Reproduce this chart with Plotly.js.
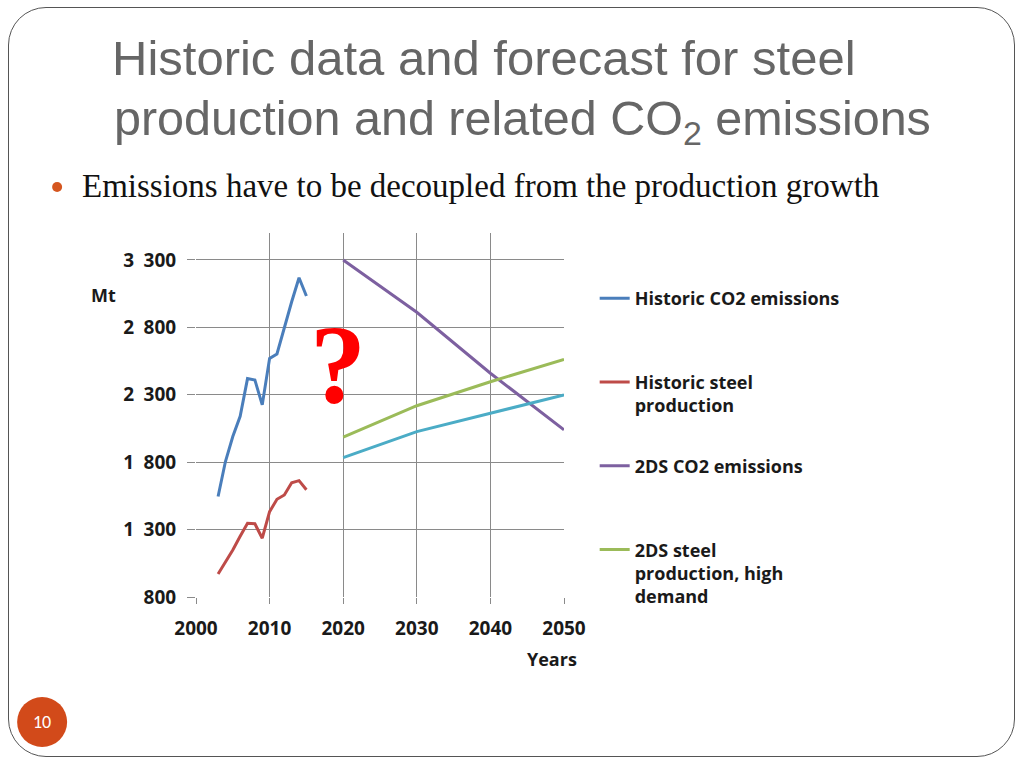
<!DOCTYPE html>
<html>
<head>
<meta charset="utf-8">
<script src="https://cdn.plot.ly/plotly-3.0.1.min.js"></script>
<style>
  html, body { margin: 0; padding: 0; background: #ffffff; }
  #wrap { position: relative; width: 1024px; height: 768px; overflow: hidden; }
  #frame { position: absolute; left: 8px; top: 7px; width: 1007px; height: 750px;
           border: 1px solid #555; border-radius: 38px; box-sizing: border-box; }
  #chart { position: absolute; left: 0; top: 0; width: 1024px; height: 768px; }
</style>
</head>
<body>
<div id="wrap">
  <div id="frame"></div>
  <div id="chart"></div>
</div>
<script>
// ---- data ----
const histYears = [2003, 2004, 2005, 2006, 2007, 2008, 2009, 2010, 2011, 2012, 2013, 2014, 2015];
const histCO2   = [1545, 1805, 1990, 2140, 2420, 2410, 2225, 2570, 2603, 2805, 2990, 3168, 3033];
const histSteel = [ 971, 1055, 1148, 1250, 1347, 1343, 1236, 1433, 1525, 1557, 1648, 1663, 1596];

const fcYears      = [2020, 2030, 2040, 2050];
const co2_2DS      = [3300, 2912, 2460, 2040];
const steelHigh2DS = [1985, 2219, 2397, 2563];
const steelLow2DS  = [1834, 2027, 2163, 2299];

const seriesNames = [
  "Historic CO2 emissions<br>&nbsp;",
  "Historic steel<br>production",
  "2DS CO2 emissions<br>&nbsp;",
  "2DS steel<br>production, high<br>demand",
  "2DS steel production, low demand"
];

const yTickVals = [800, 1300, 1800, 2300, 2800, 3300];
const yTickText = ["800", "1\u2002300", "1\u2002800", "2\u2002300", "2\u2002800", "3\u2002300"];
const xTickVals = [2000, 2010, 2020, 2030, 2040, 2050];

// ---- layout helpers (pixel -> paper) ----
const PL = 196, PR = 564.3, PT = 233, PB = 597;
const px2x = p => (p - PL) / (PR - PL);
const py2y = p => (PB - p) / (PB - PT);

const lblFont = { family: "'Open Sans', sans-serif", size: 19, color: "#1a1a1a", weight: "bold" };
const smallFont = { family: "'Open Sans', sans-serif", size: 18, color: "#1a1a1a", weight: "bold" };

const traces = [
  { x: histYears, y: histCO2, name: seriesNames[0], legendgroup: "a", line: { color: "#4A7EBB", width: 3 } },
  { x: histYears, y: histSteel, name: seriesNames[1], legendgroup: "b", line: { color: "#BE4B48", width: 3 } },
  { x: fcYears, y: co2_2DS, name: seriesNames[2], legendgroup: "c", line: { color: "#7D60A0", width: 3 } },
  { x: fcYears, y: steelHigh2DS, name: seriesNames[3], legendgroup: "d", line: { color: "#9BBB59", width: 3 } },
  { x: fcYears, y: steelLow2DS, name: seriesNames[4], legendgroup: "e", showlegend: false, line: { color: "#4BACC6", width: 3 } }
].map(t => Object.assign({ type: "scatter", mode: "lines", hoverinfo: "skip" }, t));

const layout = {
  width: 1024, height: 768,
  paper_bgcolor: "rgba(0,0,0,0)", plot_bgcolor: "rgba(0,0,0,0)",
  margin: { l: PL, r: 1024 - PR, t: PT, b: 768 - PB, pad: 0 },
  title: {
    text: "Historic data and forecast for steel",
    font: { family: "'Liberation Sans', Arial, sans-serif", size: 49, color: "#666666" },
    xref: "container", yref: "container", x: 112 / 1024, xanchor: "left",
    y: 1 - 58 / 768, yanchor: "middle"
  },
  xaxis: {
    range: [2000, 2050], tickvals: xTickVals, ticktext: xTickVals.map(String),
    showgrid: true, gridcolor: "#8a8a8a", gridwidth: 1, zeroline: false, showline: false,
    ticks: "outside", ticklen: 6, tickcolor: "#8a8a8a", tickfont: lblFont, ticklabelstandoff: 8
  },
  yaxis: {
    range: [800, 3500], tickvals: yTickVals, ticktext: yTickText,
    showgrid: true, gridcolor: "#8a8a8a", gridwidth: 1, zeroline: false, showline: false,
    ticks: "outside", ticklen: 8, tickcolor: "#8a8a8a", tickfont: lblFont, ticklabelstandoff: 7
  },
  showlegend: true,
  legend: {
    x: px2x(595), xanchor: "left", y: py2y(280), yanchor: "top",
    font: { family: "'Open Sans', sans-serif", size: 18, color: "#1a1a1a", weight: "bold" },
    valign: "top", tracegroupgap: 34, bgcolor: "rgba(0,0,0,0)", borderwidth: 0,
    traceorder: "grouped"
  },
  annotations: [
    { text: "production and related CO<sub>2</sub> emissions", xref: "paper", yref: "paper",
      x: px2x(112), xanchor: "left", y: py2y(122), yanchor: "middle", showarrow: false,
      font: { family: "'Liberation Sans', Arial, sans-serif", size: 48.5, color: "#666666" } },
    { text: "Emissions have to be decoupled from the production growth", xref: "paper", yref: "paper",
      x: px2x(80), xanchor: "left", y: py2y(186), yanchor: "middle", showarrow: false,
      font: { family: "'Liberation Serif', 'Times New Roman', serif", size: 33, color: "#111111" } },
    { text: "Mt", xref: "paper", yref: "paper", x: px2x(103), y: py2y(295), showarrow: false,
      xanchor: "center", yanchor: "middle", font: smallFont },
    { text: "Years", xref: "paper", yref: "paper", x: px2x(552), y: py2y(659), showarrow: false,
      xanchor: "center", yanchor: "middle", font: smallFont },
    { text: "?", xref: "paper", yref: "paper", x: px2x(338), y: py2y(364), showarrow: false,
      xanchor: "center", yanchor: "middle",
      font: { family: "'Liberation Serif', 'Times New Roman', serif", size: 112, color: "#FF0000", weight: "bold" } },
    { text: "10", xref: "paper", yref: "paper", x: px2x(42), y: py2y(722), showarrow: false,
      xanchor: "center", yanchor: "middle",
      font: { family: "Carlito, Lato, sans-serif", size: 18, color: "#ffffff" } }
  ],
  shapes: [
    { type: "circle", xref: "paper", yref: "paper", xsizemode: "pixel", ysizemode: "pixel",
      xanchor: px2x(57), yanchor: py2y(187), x0: -5, x1: 5, y0: -5, y1: 5,
      fillcolor: "#D5561F", line: { width: 0 } },
    { type: "circle", xref: "paper", yref: "paper", xsizemode: "pixel", ysizemode: "pixel",
      xanchor: px2x(42), yanchor: py2y(722), x0: -25, x1: 25, y0: -25, y1: 25,
      fillcolor: "#D24A1A", line: { width: 0 } }
  ]
};

Plotly.newPlot("chart", traces, layout, { staticPlot: true, displayModeBar: false });
</script>
</body>
</html>
